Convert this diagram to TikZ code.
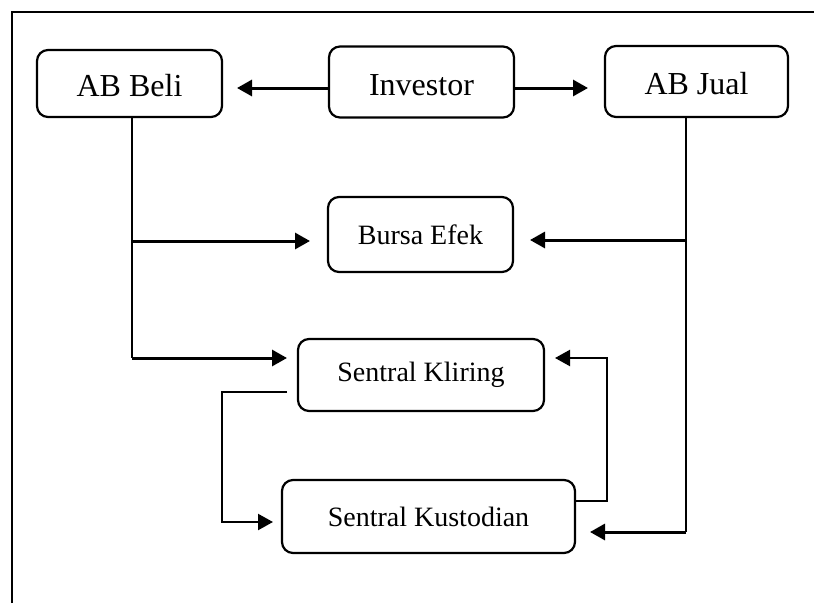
\documentclass[tikz,border=0pt]{standalone}
\usepackage{fontspec}
\setmainfont{Liberation Serif}
\usetikzlibrary{arrows.meta}
\tikzset{
  box/.style={draw, line width=2.2pt, rounded corners=11pt, inner sep=0pt, align=center},
  bigtxt/.style={font=\fontsize{32}{34}\selectfont, text height=28pt, text depth=2pt},
  smalltxt/.style={font=\fontsize{28}{30}\selectfont},
  arr/.style={line width=3pt, -{Triangle[length=15pt,width=16pt]}},
  thin/.style={line width=2.2pt},
  thinarr/.style={line width=2.2pt, -{Triangle[length=15pt,width=16pt]}},
  frame/.style={line width=2.6pt}
}
\begin{document}
\begin{tikzpicture}[x=1pt,y=-1pt]
\useasboundingbox (0,0) rectangle (814,603);
% page frame
\coordinate (fbl) at (12,603);
\coordinate (ftl) at (12,12);
\coordinate (ftr) at (814,12);
\draw[frame] (fbl) -- (ftl) -- (ftr);
% boxes
\node[box, bigtxt, minimum width=185pt, minimum height=67pt] (beli) at (129.5,83.5) {AB Beli};
\node[box, bigtxt, minimum width=185pt, minimum height=71pt] (inv) at (421.5,82) {Investor};
\node[box, bigtxt, minimum width=183pt, minimum height=71pt] (jual) at (696.5,81.5) {AB Jual};
\node[box, smalltxt, minimum width=185pt, minimum height=75pt] (bursa) at (420.5,234.5) {Bursa Efek};
\node[box, smalltxt, minimum width=246pt, minimum height=72pt] (kliring) at (421,375) {Sentral Kliring};
\node[box, smalltxt, minimum width=293pt, minimum height=73pt] (kust) at (428.5,516.5) {Sentral Kustodian};
% free ends
\coordinate (tbeli) at (237,88);
\coordinate (tjual) at (588,88);
\coordinate (bv1) at (132,241);
\coordinate (bv2) at (132,358);
\coordinate (tb1) at (310,241);
\coordinate (tk1) at (287,358);
\coordinate (jv1) at (686,240);
\coordinate (jv2) at (686,532);
\coordinate (tb2) at (530,240);
\coordinate (tk2) at (590,532);
\coordinate (ks) at (287,392);
\coordinate (ka) at (222,392);
\coordinate (kb) at (222,522);
\coordinate (tk3) at (273,522);
\coordinate (ku) at (607,501);
\coordinate (kv) at (607,358);
\coordinate (tk4) at (555,358);
% connectors
\draw[arr] (inv.west |- tbeli) -- (tbeli);
\draw[arr] (inv.east |- tjual) -- (tjual);
\draw[thin] (beli.south -| bv1) -- (bv2);
\draw[arr] (bv1) -- (tb1);
\draw[arr] (bv2) -- (tk1);
\draw[thin] (jual.south -| jv1) -- (jv2);
\draw[arr] (jv1) -- (tb2);
\draw[arr] (jv2) -- (tk2);
\draw[thinarr] (ks) -- (ka) -- (kb) -- (tk3);
\draw[thinarr] (kust.east |- ku) -- (ku) -- (kv) -- (tk4);
\end{tikzpicture}
\end{document}
